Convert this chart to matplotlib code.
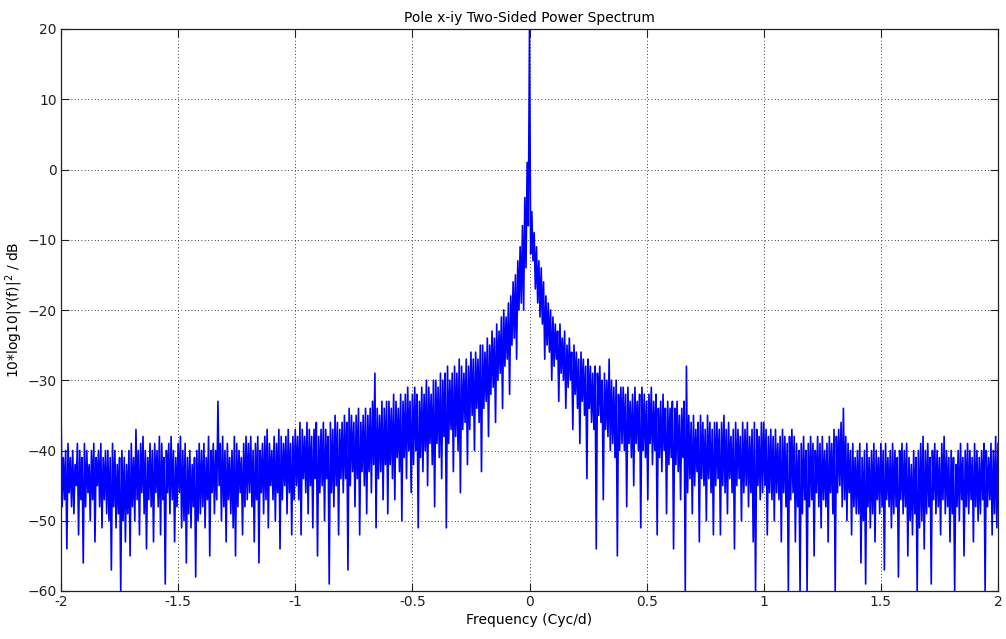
import numpy as np
import matplotlib
matplotlib.use("Agg")
import matplotlib.pyplot as plt

# spectrum: per 0.01 cyc/d bin one high sample (at f)
# and one low sample (at f + 0.005), from -2 to 2 cyc/d
f_start, f_stop = -2.0, 2.0
upper_db = [
    -34, -41, -40, -39, -41, -40, -42, -39, -40, -41, -39, -40, -42, -40, -39, -41, -40, -39, -41, -40,
    -40, -41, -39, -40, -42, -41, -40, -41, -42, -40, -39, -41, -37, -40, -39, -38, -40, -41, -39, -40,
    -39, -40, -38, -39, -41, -40, -39, -38, -40, -41, -39, -38, -40, -39, -41, -40, -42, -41, -40, -39,
    -40, -39, -41, -38, -40, -39, -40, -33, -39, -38, -40, -39, -41, -40, -38, -39, -40, -41, -39, -38,
    -39, -38, -40, -39, -38, -40, -39, -38, -37, -39, -40, -38, -39, -37, -38, -39, -38, -37, -39, -38,
    -37, -38, -36, -37, -38, -36, -37, -38, -37, -36, -38, -37, -36, -37, -38, -36, -37, -35, -36, -37,
    -36, -35, -36, -34, -35, -36, -35, -34, -36, -35, -34, -35, -34, -33, -29, -34, -35, -33, -34, -33,
    -33, -34, -32, -33, -34, -32, -33, -32, -31, -33, -32, -31, -32, -33, -31, -32, -30, -31, -32, -30,
    -30, -31, -29, -30, -29, -28, -30, -29, -28, -29, -27, -28, -29, -27, -28, -26, -27, -26, -27, -25,
    -25, -26, -24, -25, -23, -24, -22, -23, -21, -20, -21, -19, -18, -16, -15, -13, -11, -8, -4, 1,
    20, -6, -9, -11, -13, -14, -16, -18, -19, -20, -21, -22, -23, -22, -24, -23, -25, -24, -26, -25,
    -26, -27, -26, -27, -28, -27, -28, -29, -28, -29, -28, -30, -29, -30, -27, -30, -31, -30, -32, -31,
    -31, -32, -31, -33, -32, -31, -33, -32, -31, -32, -33, -32, -31, -33, -32, -34, -33, -32, -34, -33,
    -34, -33, -34, -33, -35, -34, -33, -28, -35, -36, -35, -37, -36, -35, -36, -37, -35, -36, -37, -36,
    -36, -37, -36, -35, -37, -36, -38, -37, -36, -37, -38, -36, -37, -36, -38, -37, -36, -37, -38, -36,
    -36, -37, -38, -37, -38, -37, -39, -38, -37, -38, -39, -38, -37, -38, -39, -40, -39, -38, -40, -39,
    -38, -39, -40, -38, -39, -38, -40, -39, -38, -39, -37, -38, -37, -36, -34, -38, -39, -40, -39, -41,
    -40, -39, -41, -40, -39, -41, -40, -39, -40, -41, -39, -40, -39, -41, -40, -39, -40, -41, -40, -39,
    -40, -39, -41, -42, -40, -41, -40, -39, -38, -40, -39, -41, -40, -39, -40, -41, -39, -38, -40, -41,
    -40, -41, -42, -40, -39, -41, -40, -39, -40, -41, -39, -40, -41, -40, -39, -40, -41, -39, -40, -38,
    -39,
]
lower_db = [
    -48, -47, -54, -46, -48, -49, -45, -52, -47, -56, -48, -46, -50, -47, -53, -45, -48, -51, -47, -49,
    -50, -57, -48, -51, -49, -60, -50, -53, -49, -55, -48, -50, -47, -52, -46, -49, -54, -47, -48, -53,
    -46, -48, -52, -47, -59, -46, -49, -47, -53, -48, -46, -51, -50, -56, -49, -51, -48, -58, -50, -49,
    -48, -51, -47, -55, -46, -49, -47, -45, -50, -48, -53, -47, -49, -51, -55, -48, -46, -52, -48, -47,
    -46, -48, -53, -47, -56, -46, -49, -47, -51, -45, -47, -50, -46, -54, -47, -45, -49, -46, -52, -47,
    -45, -47, -52, -44, -46, -49, -45, -51, -44, -55, -46, -45, -50, -44, -59, -46, -48, -45, -52, -44,
    -46, -44, -57, -45, -43, -48, -44, -52, -43, -45, -49, -43, -46, -42, -51, -44, -43, -47, -42, -49,
    -42, -44, -47, -41, -43, -50, -41, -44, -40, -46, -42, -40, -51, -41, -43, -40, -45, -39, -42, -48,
    -39, -41, -44, -38, -51, -39, -37, -43, -38, -40, -46, -37, -36, -42, -37, -35, -40, -34, -36, -43,
    -34, -33, -38, -32, -31, -36, -30, -29, -34, -28, -27, -32, -25, -24, -27, -20, -19, -20, -14, -8,
    -12, -13, -17, -19, -21, -22, -27, -25, -26, -30, -28, -27, -33, -29, -30, -34, -31, -30, -37, -32,
    -34, -39, -33, -35, -44, -34, -36, -37, -54, -35, -36, -47, -37, -38, -40, -39, -41, -55, -40, -39,
    -40, -48, -39, -41, -45, -39, -40, -51, -40, -41, -47, -39, -42, -40, -52, -41, -43, -40, -49, -42,
    -41, -54, -42, -43, -47, -41, -60, -46, -44, -49, -45, -43, -53, -44, -45, -50, -44, -46, -52, -45,
    -44, -52, -45, -46, -49, -44, -46, -54, -45, -44, -50, -46, -45, -48, -46, -53, -60, -45, -47, -46,
    -45, -52, -46, -47, -50, -46, -47, -53, -46, -48, -60, -47, -46, -53, -48, -60, -49, -47, -60, -48,
    -47, -55, -46, -48, -51, -47, -48, -53, -46, -49, -60, -46, -45, -48, -47, -50, -46, -52, -48, -49,
    -49, -56, -50, -59, -48, -51, -49, -53, -47, -49, -48, -57, -47, -48, -51, -49, -48, -58, -47, -49,
    -48, -55, -50, -52, -49, -60, -51, -50, -54, -49, -48, -59, -47, -49, -48, -52, -47, -49, -48, -53,
    -49, -60, -48, -50, -47, -55, -48, -49, -47, -53, -48, -50, -49, -47, -60, -48, -47, -52, -49, -51,
]
x_ticks = [-2, -1.5, -1, -0.5, 0, 0.5, 1, 1.5, 2]
x_tick_labels = ["-2", "-1.5", "-1", "-0.5", "0", "0.5", "1", "1.5", "2"]
y_ticks = [-60, -50, -40, -30, -20, -10, 0, 10, 20]

# interleave high / low samples into one trace
power_db = np.empty(len(upper_db) + len(lower_db))
power_db[0::2] = upper_db
power_db[1::2] = lower_db
freq = np.linspace(f_start, f_stop, len(power_db))

plt.rcParams['font.family'] = ['DejaVu Sans']

fig = plt.figure(figsize=(10.06, 6.39), dpi=100)
ax = fig.add_axes([61 / 1006, 1 - 591 / 639, 937 / 1006, 562 / 639])

ax.plot(freq, power_db, color='#0000ff', lw=1.2)

ax.set_xlim(-2, 2)
ax.set_ylim(-60, 20)
ax.set_xticks(x_ticks)
ax.set_xticklabels(x_tick_labels)
ax.set_yticks(y_ticks)
ax.grid(True, linestyle=(0, (1, 3)), color='black', lw=0.6)
ax.tick_params(direction='in', top=True, right=True, length=6, width=0.8,
               labelsize=10, colors='#222222', pad=3)
for s in ax.spines.values():
    s.set_linewidth(0.9)
    s.set_color('#222222')

ax.set_title("Pole x-iy Two-Sided Power Spectrum", fontsize=10, pad=5)
ax.set_xlabel("Frequency (Cyc/d)", fontsize=10, labelpad=3)
ax.set_ylabel(r"10*log10|Y(f)|$^2$ / dB", fontsize=10, labelpad=2)

fig.savefig("out.png", dpi=100)
